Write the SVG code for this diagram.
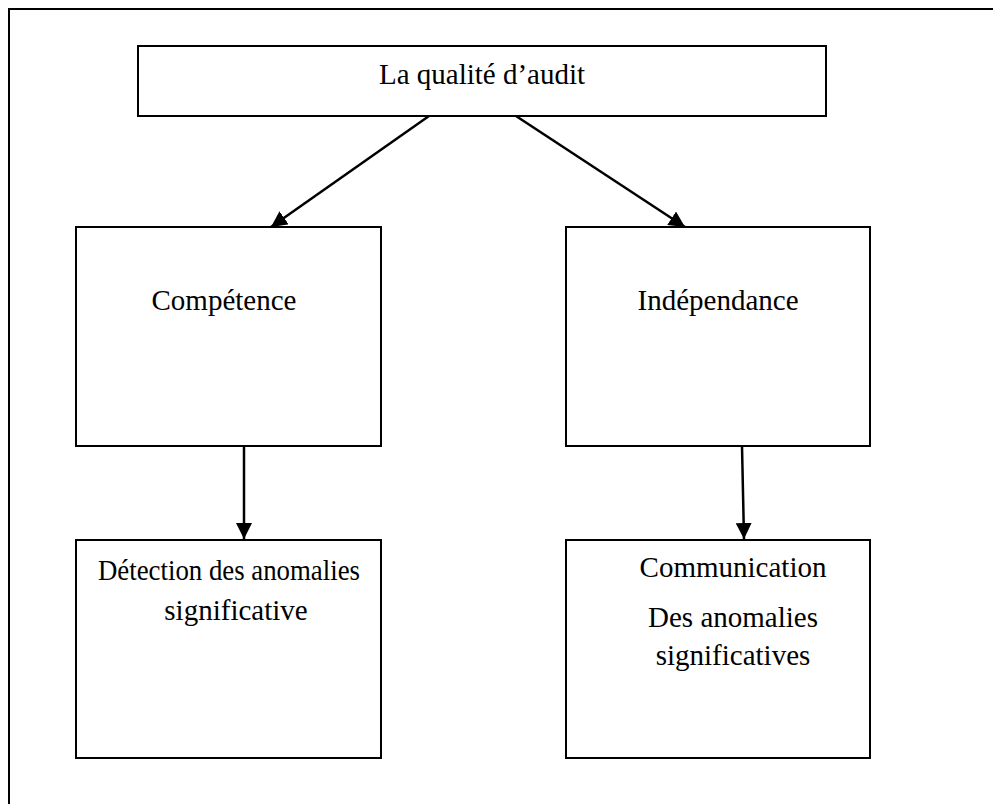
<svg xmlns="http://www.w3.org/2000/svg" width="993" height="804" viewBox="0 0 993 804">
  <style>
    .box { fill: #ffffff; stroke: #000000; stroke-width: 2; }
    .frame { fill: none; stroke: #000000; stroke-width: 2; }
    .label { font-family: "Liberation Serif", "Times New Roman", serif; font-size: 29px; fill: #000000; text-anchor: middle; }
    .link { stroke: #000000; stroke-width: 2.5; fill: none; marker-end: url(#arrow); }
  </style>
  <defs>
    <marker id="arrow" viewBox="0 0 10 10" refX="10" refY="5" markerWidth="16" markerHeight="16" markerUnits="userSpaceOnUse" orient="auto">
      <path d="M0,0 L10,5 L0,10 z" fill="#000000"/>
    </marker>
  </defs>
  <rect width="993" height="804" fill="#ffffff"/>

  <!-- outer frame, open to the right and bottom -->
  <path class="frame" d="M9,1000 L9,9 L1000,9"/>

  <g id="quality">
    <rect class="box" x="138" y="46" width="688" height="70"/>
    <text class="label" x="482" y="84">La qualité d’audit</text>
  </g>

  <g id="competence">
    <rect class="box" x="76" y="227" width="305" height="219"/>
    <text class="label" x="224" y="310">Compétence</text>
  </g>

  <g id="independance">
    <rect class="box" x="566" y="227" width="304" height="219"/>
    <text class="label" x="718" y="310">Indépendance</text>
  </g>

  <g id="detection">
    <rect class="box" x="76" y="540" width="305" height="218"/>
    <text class="label" x="229" y="580" textLength="262" lengthAdjust="spacingAndGlyphs">Détection des anomalies</text>
    <text class="label" x="236" y="620">significative</text>
  </g>

  <g id="communication">
    <rect class="box" x="566" y="540" width="304" height="218"/>
    <text class="label" x="733" y="577">Communication</text>
    <text class="label" x="733" y="627">Des anomalies</text>
    <text class="label" x="733" y="665">significatives</text>
  </g>

  <g id="connectors">
    <line class="link" x1="429" y1="116" x2="271" y2="227"/>
    <line class="link" x1="516" y1="116" x2="685" y2="227"/>
    <line class="link" x1="244" y1="446" x2="244" y2="539"/>
    <line class="link" x1="742" y1="446" x2="744" y2="539"/>
  </g>
</svg>
